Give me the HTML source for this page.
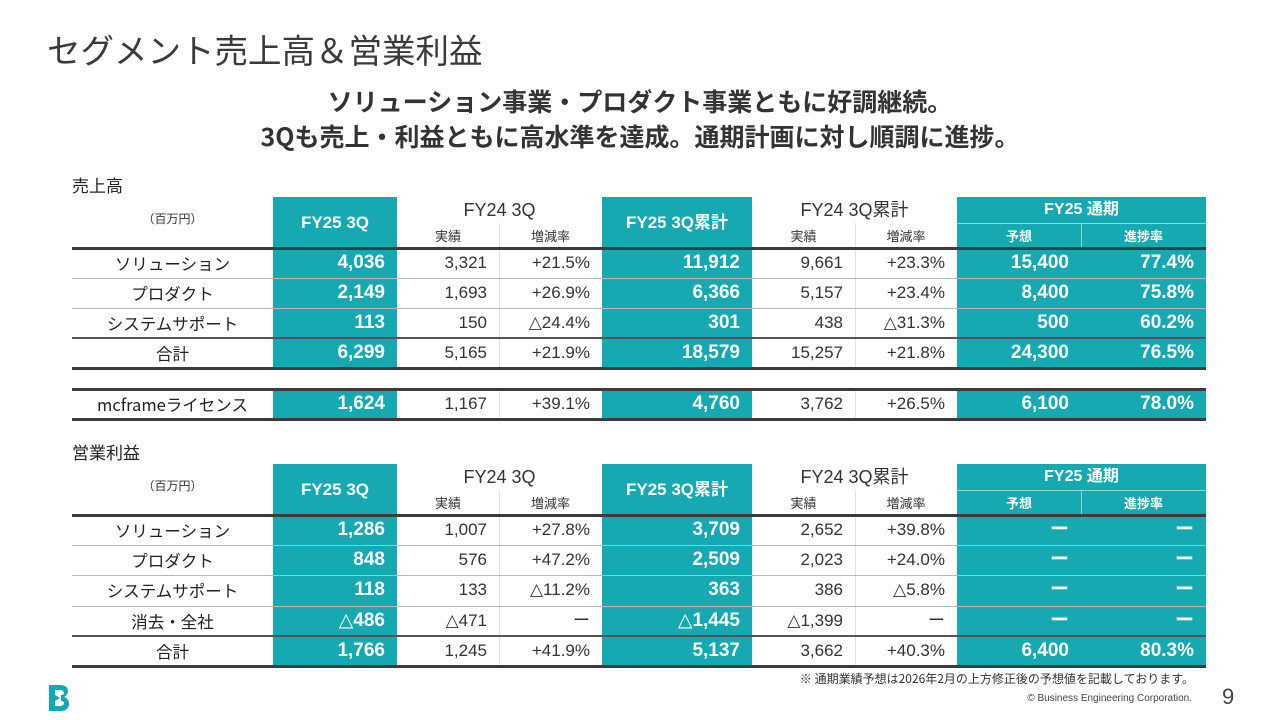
<!DOCTYPE html>
<html><head><meta charset="utf-8">
<style>
body{margin:0;width:1280px;height:720px;background:#fff;position:relative;overflow:hidden;font-family:"Liberation Sans","Noto Sans CJK JP",sans-serif;color:#333}
.a{position:absolute}
.t{position:absolute;white-space:nowrap;line-height:1}
</style></head><body>
<div class="t" style="left:47px;top:32px;font-size:33.5px;font-family:'Noto Sans CJK JP',sans-serif;color:#3a3a3a">セグメント売上高＆営業利益</div>
<div class="t" style="left:0;width:1280px;text-align:center;top:89px;font-size:25px;font-weight:bold;font-family:'Noto Sans CJK JP',sans-serif">ソリューション事業・プロダクト事業ともに好調継続。</div>
<div class="t" style="left:0;width:1280px;text-align:center;top:124px;font-size:25px;font-weight:bold;font-family:'Noto Sans CJK JP',sans-serif">3Qも売上・利益ともに高水準を達成。通期計画に対し順調に進捗。</div>
<div id="root"></div>
<div class="t" style="right:86px;top:673px;font-size:12px;font-family:'Noto Sans CJK JP',sans-serif">※ 通期業績予想は2026年2月の上方修正後の予想値を記載しております。</div>
<div class="t" style="right:88px;top:694px;font-size:10px;color:#444">© Business Engineering Corporation.</div>
<div class="t" style="left:1222px;top:686px;font-size:22px;color:#444">9</div>
<svg class="a" style="left:47px;top:684px" width="24" height="28" viewBox="0 0 24 28"><path d="M2 1h11c6 0 8 3 8 6 0 3-2 5-4 6 3 1 5 3 5 7 0 4-3 7-9 7H2z M8 6v5l5 3-5 3v5h5c3 0 4-2 4-3s-1-2-3-2l0 0 0-6c2 0 3-1 3-2s-1-3-4-3z" fill="#14a8b2" fill-rule="evenodd"/></svg>
<script>
const salesLabels=['ソリューション','プロダクト','システムサポート','合計'];
const salesFY25Q3=['4,036','2,149','113','6,299'];
const salesFY24Q3=['3,321','1,693','150','5,165'];
const salesQ3Rate=['+21.5%','+26.9%','△24.4%','+21.9%'];
const salesFY25Cum=['11,912','6,366','301','18,579'];
const salesFY24Cum=['9,661','5,157','438','15,257'];
const salesCumRate=['+23.3%','+23.4%','△31.3%','+21.8%'];
const salesPlan=['15,400','8,400','500','24,300'];
const salesProgress=['77.4%','75.8%','60.2%','76.5%'];
const mcRow=['mcframeライセンス','1,624','1,167','+39.1%','4,760','3,762','+26.5%','6,100','78.0%'];
const opLabels=['ソリューション','プロダクト','システムサポート','消去・全社','合計'];
const opFY25Q3=['1,286','848','118','△486','1,766'];
const opFY24Q3=['1,007','576','133','△471','1,245'];
const opQ3Rate=['+27.8%','+47.2%','△11.2%','ー','+41.9%'];
const opFY25Cum=['3,709','2,509','363','△1,445','5,137'];
const opFY24Cum=['2,652','2,023','386','△1,399','3,662'];
const opCumRate=['+39.8%','+24.0%','△5.8%','ー','+40.3%'];
const opPlan=['ー','ー','ー','ー','6,400'];
const opProgress=['ー','ー','ー','ー','80.3%'];

const TEAL='#16a9b1';
const X=[72,273,397,499,602,752,855,957,1081,1206];
const tealCols=[1,4,7,8];
const root=document.getElementById('root');
function div(css,txt,name){const d=document.createElement('div');d.style.cssText='position:absolute;'+css;if(txt!==undefined){d.textContent=txt;}


root.appendChild(d);return d;}
function txt(x,w,y,h,s,align,css,name){return div(`left:${x}px;width:${w}px;top:${y}px;height:${h}px;line-height:${h}px;text-align:${align};white-space:nowrap;font-family:"Liberation Sans","DejaVu Sans","Noto Sans CJK JP",sans-serif;`+css,s,name);}

function header(top,label){
  txt(72,120,top-22,20,label,'left','font-size:17px;font-family:"Noto Sans CJK JP",sans-serif;color:#222','section-label');
  const hb=top+51,mid=top+26;
  tealCols.forEach(c=>div(`left:${X[c]}px;width:${X[c+1]-X[c]}px;top:${top}px;height:${hb-top}px;background:${TEAL}`,undefined,'header-cell'));
  div(`left:${X[7]}px;width:${X[9]-X[7]}px;top:${mid}px;height:1px;background:#8fd6da`,undefined,'header-divider');
  div(`left:${X[8]}px;width:1px;top:${mid}px;height:${hb-mid}px;background:#8fd6da`,undefined,'header-divider');
  txt(72,201,top+14,16,'（百万円）','center','font-size:12px;font-family:"Noto Sans CJK JP",sans-serif','unit-label');
  txt(X[1],X[2]-X[1],top,hb-top,'FY25 3Q','center','color:#fff;font-weight:bold;font-size:17px','header-fy25-3q');
  txt(X[4],X[5]-X[4],top,hb-top,'FY25 3Q累計','center','color:#fff;font-weight:bold;font-size:17px','header-fy25-cum');
  txt(X[2],X[4]-X[2],top,26,'FY24 3Q','center','font-size:18px','header-fy24-3q');
  txt(X[5],X[7]-X[5],top,26,'FY24 3Q累計','center','font-size:18px','header-fy24-cum');
  txt(X[7],X[9]-X[7],top,26,'FY25 通期','center','color:#fff;font-weight:bold;font-size:16px','header-fy25-full');
  [[2,'実績',''],[3,'増減率',''],[5,'実績',''],[6,'増減率',''],[7,'予想','color:#fff;font-weight:bold;'],[8,'進捗率','color:#fff;font-weight:bold;']].forEach(a=>
    txt(X[a[0]],X[a[0]+1]-X[a[0]],mid,hb-mid,a[1],'center',a[2]+'font-size:13px;font-family:"Noto Sans CJK JP",sans-serif','subheader'));
  return hb;
}
function row(y,h,vals,bold){
  tealCols.forEach(c=>div(`left:${X[c]}px;width:${X[c+1]-X[c]}px;top:${y}px;height:${h}px;background:${TEAL}`,undefined,'teal-cell'));
  txt(72,201,y,h,vals[0],'center','font-size:16.5px;font-family:"Noto Sans CJK JP",sans-serif;color:#222','row-label');
  for(let c=1;c<9;c++){
    const teal=tealCols.includes(c);
    txt(X[c],X[c+1]-X[c]-12,y,h,vals[c],'right',teal?'color:#fff;font-weight:bold;font-size:19px':'font-size:17px;color:#333','cell-value');
  }
}
function hline(y,w,col,name){div(`left:72px;width:${1206-72}px;top:${y}px;height:${w}px;background:${col}`,undefined,name);}
function vlines(t,b){[3,6].forEach(c=>div(`left:${X[c]}px;width:1px;top:${t}px;height:${b-t}px;background:#e2e2e2`,undefined,'column-divider'));}

function table(top,labels,cols,rh){
  const hb=header(top,top<300?'売上高':'営業利益');
  const n=labels.length;
  for(let i=0;i<n;i++){row(hb+i*rh,rh,[labels[i]].concat(cols.map(a=>a[i])));}
  vlines(top+26,hb+n*rh);
  hline(hb-1,3,'#3c3c3c','header-bottom-rule');
  for(let i=1;i<n;i++){const last=i==n-1;hline(hb+i*rh-(last?1:0),last?2:1,last?'#555':'#b8b8b8','row-rule');}
  hline(hb+n*rh-1,3,'#3c3c3c','table-bottom-rule');
  return hb+n*rh;
}
table(197,salesLabels,[salesFY25Q3,salesFY24Q3,salesQ3Rate,salesFY25Cum,salesFY24Cum,salesCumRate,salesPlan,salesProgress],30);
row(389,30,mcRow);
vlines(389,419);
hline(388,3,'#3c3c3c','mcframe-top-rule');
hline(418,3,'#3c3c3c','mcframe-bottom-rule');
table(464,opLabels,[opFY25Q3,opFY24Q3,opQ3Rate,opFY25Cum,opFY24Cum,opCumRate,opPlan,opProgress],30.2);
</script>
</body></html>
